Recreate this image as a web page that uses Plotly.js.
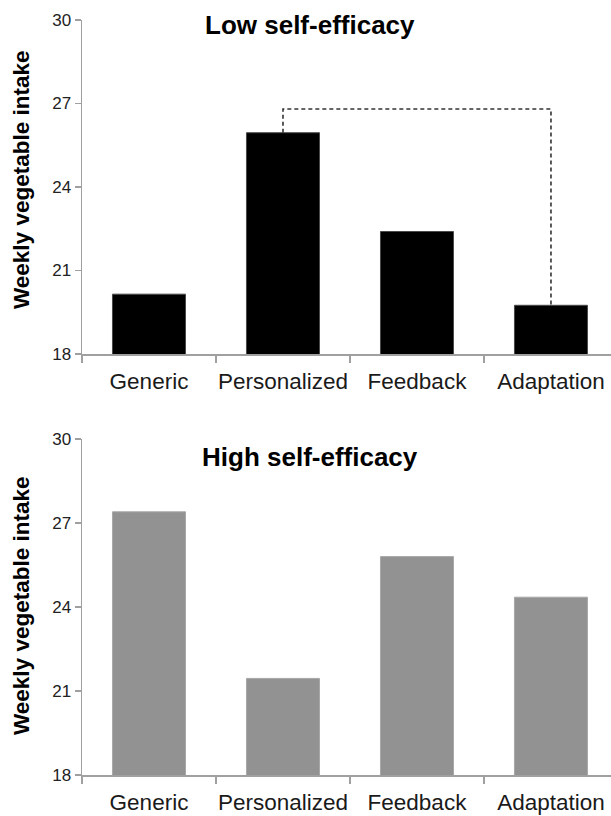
<!DOCTYPE html>
<html>
<head>
<meta charset="utf-8">
<script src="https://cdn.plot.ly/plotly-3.0.1.min.js"></script>
<style>
  html, body { margin: 0; padding: 0; background: #ffffff; }
  #chart { width: 611px; height: 816px; }
</style>
</head>
<body>
<div id="chart"></div>
<script>
// ---- data ----
const categories = ['Generic', 'Personalized', 'Feedback', 'Adaptation'];
const lowSelfEfficacy = [20.15, 25.95, 22.4, 19.75];
const highSelfEfficacy = [27.4, 21.45, 25.8, 24.35];
const yTickValues = [18, 21, 24, 27, 30];
const bracketCategories = ['Personalized', 'Personalized', 'Adaptation', 'Adaptation'];
const bracketValues = [25.95, 26.8, 26.8, 19.75];
const panelTitles = ['Low self-efficacy', 'High self-efficacy'];
const yAxisTitle = 'Weekly vegetable intake';

const FONT = 'Liberation Sans, Arial, sans-serif';
const AXIS_COLOR = '#a0a0a0';

const traces = [
  {
    type: 'bar', x: categories, y: lowSelfEfficacy,
    xaxis: 'x', yaxis: 'y', width: 0.545,
    marker: { color: '#000000', line: { color: '#4a4a4a', width: 1 } },
    hoverinfo: 'skip'
  },
  {
    type: 'scatter', mode: 'lines', x: bracketCategories, y: bracketValues,
    xaxis: 'x', yaxis: 'y',
    line: { color: '#333333', width: 1.6, dash: '4px,3px' },
    hoverinfo: 'skip'
  },
  {
    type: 'bar', x: categories, y: highSelfEfficacy,
    xaxis: 'x2', yaxis: 'y2', width: 0.545,
    marker: { color: '#929292', line: { color: '#a8a8a8', width: 1 } },
    hoverinfo: 'skip'
  }
];

function xAxis(anchor) {
  return {
    anchor: anchor,
    domain: [0, 1],
    type: 'category',
    categoryorder: 'array',
    categoryarray: categories,
    range: [-0.5, 3.448],
    showline: true, linecolor: AXIS_COLOR, linewidth: 1.5,
    ticks: 'outside', tickson: 'boundaries', ticklen: 7, tickwidth: 1.5, tickcolor: AXIS_COLOR,
    tickangle: 0, ticklabelstandoff: 6,
    showgrid: false, zeroline: false,
    tickfont: { family: FONT, size: 22.5, color: '#1a1a1a' },
    fixedrange: true
  };
}
function yAxis(anchor, domain) {
  return {
    anchor: anchor,
    domain: domain,
    range: [18, 30],
    tickvals: yTickValues,
    ticktext: yTickValues.map(String),
    showline: true, linecolor: AXIS_COLOR, linewidth: 1.5,
    ticks: 'outside', ticklen: 6, tickwidth: 1.5, tickcolor: AXIS_COLOR,
    showgrid: false, zeroline: false,
    tickfont: { family: FONT, size: 17, color: '#222222' },
    fixedrange: true
  };
}

const H = 816;
const layout = {
  width: 611, height: 816,
  margin: { l: 82, r: 0, t: 0, b: 0 },
  paper_bgcolor: '#ffffff', plot_bgcolor: '#ffffff',
  showlegend: false,
  bargap: 0.455,
  xaxis: xAxis('y'),
  yaxis: yAxis('x', [(H - 354) / H, (H - 20) / H]),
  xaxis2: xAxis('y2'),
  yaxis2: yAxis('x2', [(H - 775) / H, (H - 439) / H]),
  annotations: [
    { text: '<b>' + panelTitles[0] + '</b>', xref: 'paper', yref: 'paper',
      x: (310 - 82) / 529, y: 1 - 24.5 / H, xanchor: 'center', yanchor: 'middle',
      showarrow: false, font: { family: FONT, size: 26, color: '#000000' } },
    { text: '<b>' + panelTitles[1] + '</b>', xref: 'paper', yref: 'paper',
      x: (310 - 82) / 529, y: 1 - 456.5 / H, xanchor: 'center', yanchor: 'middle',
      showarrow: false, font: { family: FONT, size: 26, color: '#000000' } },
    { text: '<b>' + yAxisTitle + '</b>', xref: 'paper', yref: 'paper', textangle: -90,
      x: (21 - 82) / 529, y: 1 - 180 / H, xanchor: 'center', yanchor: 'middle',
      showarrow: false, font: { family: FONT, size: 22.5, color: '#000000' } },
    { text: '<b>' + yAxisTitle + '</b>', xref: 'paper', yref: 'paper', textangle: -90,
      x: (21 - 82) / 529, y: 1 - 606 / H, xanchor: 'center', yanchor: 'middle',
      showarrow: false, font: { family: FONT, size: 22.5, color: '#000000' } }
  ]
};

Plotly.newPlot('chart', traces, layout, { staticPlot: true, displayModeBar: false });
</script>
</body>
</html>
